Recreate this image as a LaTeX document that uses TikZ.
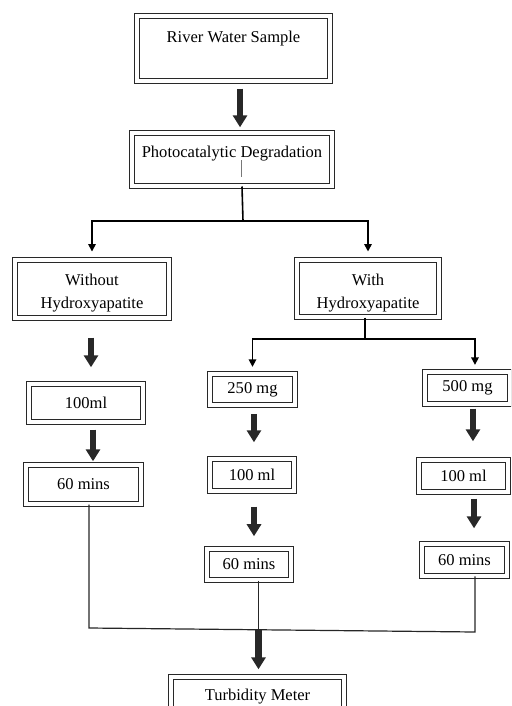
\documentclass[tikz,border=0pt]{standalone}
\usepackage{fontspec}
\setmainfont{Liberation Serif}
\usetikzlibrary{arrows.meta}
\definecolor{boxline}{RGB}{40,40,40}
\definecolor{arrowdark}{RGB}{40,40,40}
\definecolor{straygray}{RGB}{120,120,120}

\tikzset{
  stage/.style={rectangle, draw=boxline, line width=1pt, double=white,
                double distance=2.9pt, align=center, inner sep=2pt},
  bigarrow/.style={-{Triangle[width=10.5pt,length=9pt]}, line width=5pt, arrowdark},
  flow/.style={line width=1.2pt, black},
  flowarrow/.style={flow, -{Triangle[width=5.6pt,length=5.6pt]}},
  link/.style={line width=0.9pt, black!85},
}

\begin{document}
\begin{tikzpicture}[x=0.75pt, y=-0.75pt, font=\fontsize{12.4pt}{17.2pt}\selectfont]
    \useasboundingbox (0,0) rectangle (511,706);
    \clip (0,0) rectangle (511,706);
    % boxes
    \node[stage, minimum width=144.5pt, minimum height=48.5pt, text depth=18pt] (river)
      at (233.5,48.5) {River Water Sample};
    \node[stage, minimum width=149.7pt, minimum height=39.5pt, text depth=12pt] (photo)
      at (232,159.5) {Photocatalytic Degradation};
    \node[stage, minimum width=115.2pt, minimum height=43.2pt, text height=32pt, text depth=2.5pt] (without)
      at (92,289) {Without\\Hydroxyapatite};
    \node[stage, minimum width=106.2pt, minimum height=42.5pt, text height=32pt, text depth=2.5pt] (with)
      at (368,288.5) {With\\Hydroxyapatite};
    \node[stage, minimum width=85.2pt, minimum height=28.2pt] (volL) at (86,403) {100ml};
    \node[stage, minimum width=86pt, minimum height=29pt] (minsL) at (83.5,484.5) {60 mins};
    \node[stage, minimum width=63.5pt, minimum height=23pt] (mgA) at (252.5,389.5) {250 mg};
    \node[stage, minimum width=62.7pt, minimum height=23.7pt] (volM) at (252,475) {100 ml};
    \node[stage, minimum width=62.7pt, minimum height=23pt] (minsM) at (249,564.5) {60 mins};
    \node[stage, minimum width=63.5pt, minimum height=23.7pt] (mgB) at (467.5,388) {500 mg};
    \node[stage, minimum width=66.5pt, minimum height=23.7pt] (volR) at (463.5,476) {100 ml};
    \node[stage, minimum width=63.5pt, minimum height=23.7pt] (minsR) at (464.5,560) {60 mins};
    \node[stage, minimum width=129.5pt, minimum height=29pt] (meter) at (257.5,696.5) {Turbidity Meter};
    % stray mark inside the degradation box
    \draw[straygray, line width=0.7pt] ([xshift=6.75pt,yshift=-0.4pt]photo.center) -- ++(0,17);
    % branch points
    \coordinate (split) at (243,221);
    \coordinate (splitB) at (365,339);
    \coordinate (endL) at (89,628);
    \coordinate (join) at (258.5,630);
    \coordinate (endR) at (475,632);
    % thin connectors
    \draw[flow] ([xshift=7.5pt]photo.south) -- (split);
    \draw[flowarrow, shorten >=6pt] (split) -| (without);
    \draw[flowarrow, shorten >=6pt] (split) -| (with);
    \draw[flow] ([xshift=-2.25pt]with.south) -- (splitB);
    \draw[flowarrow, shorten >=5pt] (splitB) -| (mgA);
    \draw[flowarrow, shorten >=5pt] (splitB) -| ([xshift=5.6pt]mgB.north);
    % thick arrows
    \draw[bigarrow, shorten <=5.4pt, shorten >=3.9pt]
      ([xshift=4.9pt]river.south) -- ([xshift=4.9pt]river.south |- photo.north);
    \draw[bigarrow, shorten <=14.4pt, shorten >=12.2pt]
      ([xshift=-0.75pt]without.south) -- ([xshift=-0.75pt]without.south |- volL.north);
    \draw[bigarrow, shorten <=5.4pt, shorten >=2.4pt]
      ([xshift=5.25pt]volL.south) -- ([xshift=5.25pt]volL.south |- minsL.north);
    \draw[bigarrow, shorten <=6.2pt, shorten >=12.2pt]
      ([xshift=1.1pt]mgA.south) -- ([xshift=1.1pt]mgA.south |- volM.north);
    \draw[bigarrow, shorten <=11.4pt, shorten >=9.2pt]
      ([xshift=1.5pt]volM.south) -- ([xshift=1.5pt]volM.south |- minsM.north);
    \draw[bigarrow, shorten <=3.2pt, shorten >=13.7pt]
      ([xshift=4.1pt]mgB.south) -- ([xshift=4.1pt]mgB.south |- volR.north);
    \draw[bigarrow, shorten <=4.7pt, shorten >=11.4pt]
      ([xshift=7.9pt]volR.south) -- ([xshift=7.9pt]volR.south |- minsR.north);
    % collecting line to the meter
    \draw[link] ([xshift=4.1pt]minsL.south) -- (endL) -- (endR) -- ([xshift=7.9pt]minsR.south);
    \draw[link] ([xshift=7pt]minsM.south) -- ([xshift=7pt]minsM.south |- join);
    \draw[bigarrow, shorten >=5.4pt] (join) -- (join |- meter.north);
\end{tikzpicture}
\end{document}
